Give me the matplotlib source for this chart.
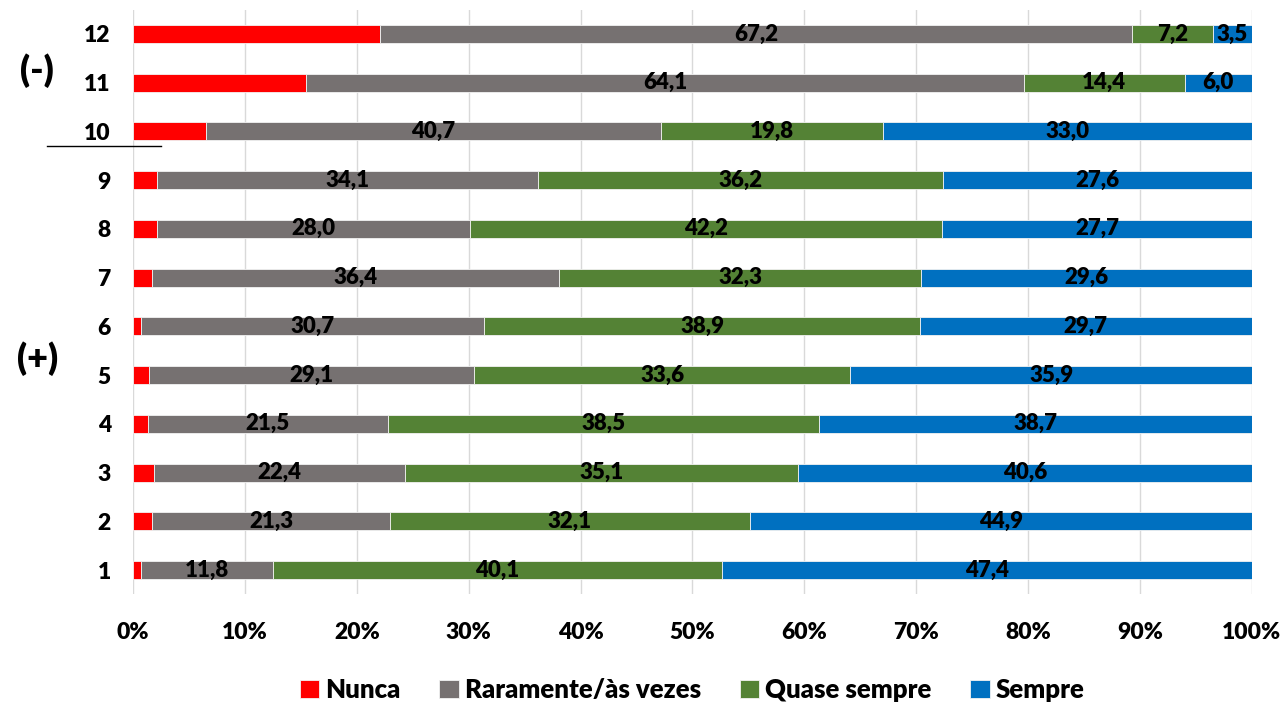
import matplotlib
matplotlib.use("Agg")
import matplotlib.pyplot as plt
from matplotlib.lines import Line2D
import numpy as np

plt.rcParams["font.family"] = ["Lato", "DejaVu Sans"]
plt.rcParams["font.weight"] = "heavy"

WEIGHT = "heavy"

# Data (percent per item)
items = ["1", "2", "3", "4", "5", "6", "7", "8", "9", "10", "11", "12"]
series_names = ["Nunca", "Raramente/às vezes", "Quase sempre", "Sempre"]
nunca = [0.7, 1.7, 1.9, 1.3, 1.4, 0.7, 1.7, 2.1, 2.1, 6.5, 15.5, 22.1]
raramente = [11.8, 21.3, 22.4, 21.5, 29.1, 30.7, 36.4, 28.0, 34.1, 40.7, 64.1, 67.2]
quase_sempre = [40.1, 32.1, 35.1, 38.5, 33.6, 38.9, 32.3, 42.2, 36.2, 19.8, 14.4, 7.2]
sempre = [47.4, 44.9, 40.6, 38.7, 35.9, 29.7, 29.6, 27.7, 27.6, 33.0, 6.0, 3.5]

COLORS = ["#FF0000", "#767171", "#548235", "#0070C0"]

fig = plt.figure(figsize=(12.88, 7.04), dpi=100)
ax = fig.add_axes([0.1033, 0.1557, 0.8687, 0.8307])

y = np.arange(len(items))
left = np.zeros(len(items))
all_series = [nunca, raramente, quase_sempre, sempre]
for i, (name, vals) in enumerate(zip(series_names, all_series)):
    vals = np.array(vals)
    ax.barh(y, vals, left=left, height=0.37, color=COLORS[i], edgecolor="#F2F2F2",
            linewidth=0.6, label=name, zorder=3)
    # label every series except "Nunca"
    if i > 0:
        for yi, (l, v) in enumerate(zip(left, vals)):
            ax.text(l + v / 2, yi, f"{v:.1f}".replace(".", ","), ha="center", va="center",
                    fontsize=16, fontweight=WEIGHT, color="black", zorder=4)
    left += vals

ax.set_xlim(0, 100)
ax.set_ylim(-0.5, len(items) - 0.5)
ax.set_yticks(y)
ax.set_yticklabels(items, fontsize=16.5, fontweight=WEIGHT)
ax.set_xticks(np.arange(0, 101, 10))
ax.set_xticklabels([f"{t}%" for t in range(0, 101, 10)], fontsize=16.5, fontweight=WEIGHT)
ax.tick_params(axis="both", length=0)
ax.tick_params(axis="y", pad=16)
ax.tick_params(axis="x", pad=20)
ax.grid(axis="x", color="#D9D9D9", linewidth=1, zorder=0)
for side in ["top", "right", "left", "bottom"]:
    ax.spines[side].set_visible(False)

# group markers
fig.text(0.029, 0.90, "(-)", fontsize=26, fontweight=WEIGHT, ha="center", va="center")
fig.text(0.0295, 0.49, "(+)", fontsize=26, fontweight=WEIGHT, ha="center", va="center")
fig.add_artist(Line2D([47 / 1288, 161 / 1288], [1 - 146 / 704, 1 - 146 / 704],
                      color="black", linewidth=1))

fig.legend(loc="center", bbox_to_anchor=(0.5375, 0.02), ncol=4, frameon=False,
           fontsize=18.5, handlelength=0.75, handleheight=0.75, handletextpad=0.25,
           columnspacing=1.5, prop={"weight": WEIGHT, "size": 18.5})

fig.savefig("out.png", dpi=100)
